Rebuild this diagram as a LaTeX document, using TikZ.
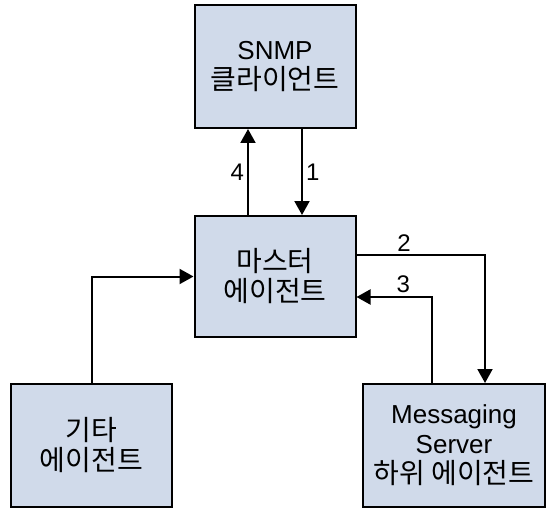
\documentclass[tikz,border=0pt]{standalone}
\usepackage{fontspec}
\setmainfont{Liberation Sans}
\newfontfamily\kr{Noto Sans CJK KR}
\newcommand{\hangul}[1]{{\kr\fontsize{28}{30}\selectfont #1}}
\usepackage{tikz}
\usetikzlibrary{calc}
\usetikzlibrary{arrows.meta}

\definecolor{boxfill}{RGB}{208,218,234}

\tikzset{
  agentbox/.style={draw=black, fill=boxfill, line width=2pt, align=center,
    minimum width=161pt, minimum height=123pt, inner sep=0pt,
    font=\fontsize{26}{30}\selectfont},
  flow/.style={line width=2pt, -{Triangle[length=14pt,width=15pt]}},
  num/.style={font=\fontsize{24}{28}\selectfont, inner sep=3pt}
}

\begin{document}
\begin{tikzpicture}[x=1pt,y=-1pt]
\useasboundingbox (0,0) rectangle (546,508);

\node[agentbox] (snmp) at (275,66.5) {SNMP\\\hangul{클라이언트}};
\node[agentbox, minimum height=121pt] (master) at (275,276.5) {\hangul{마스터}\\\hangul{에이전트}};
\node[agentbox] (other) at (91.5,445.5) {\hangul{기타}\\\hangul{에이전트}};
\node[agentbox, minimum width=182pt] (msg) at (454,445.5) {Messaging\\Server\\\hangul{하위 에이전트}};

\draw[flow] ($(snmp.south)+(27,0)$) -- node[num,right] {1} ($(master.north)+(27,0)$);
\draw[flow] ($(master.north)+(-27,0)$) -- node[num,left] {4} ($(snmp.south)+(-27,0)$);
\draw[flow] ($(master.east)+(0,-21.5)$) -| node[num,above,pos=0.185] {2} ($(msg.north)+(31,0)$);
\draw[flow] ($(msg.north)+(-22,0)$) |- node[num,above,pos=0.69] {3} ($(master.east)+(0,20.5)$);
\draw[flow] (other.north) |- (master.west);
\end{tikzpicture}
\end{document}
